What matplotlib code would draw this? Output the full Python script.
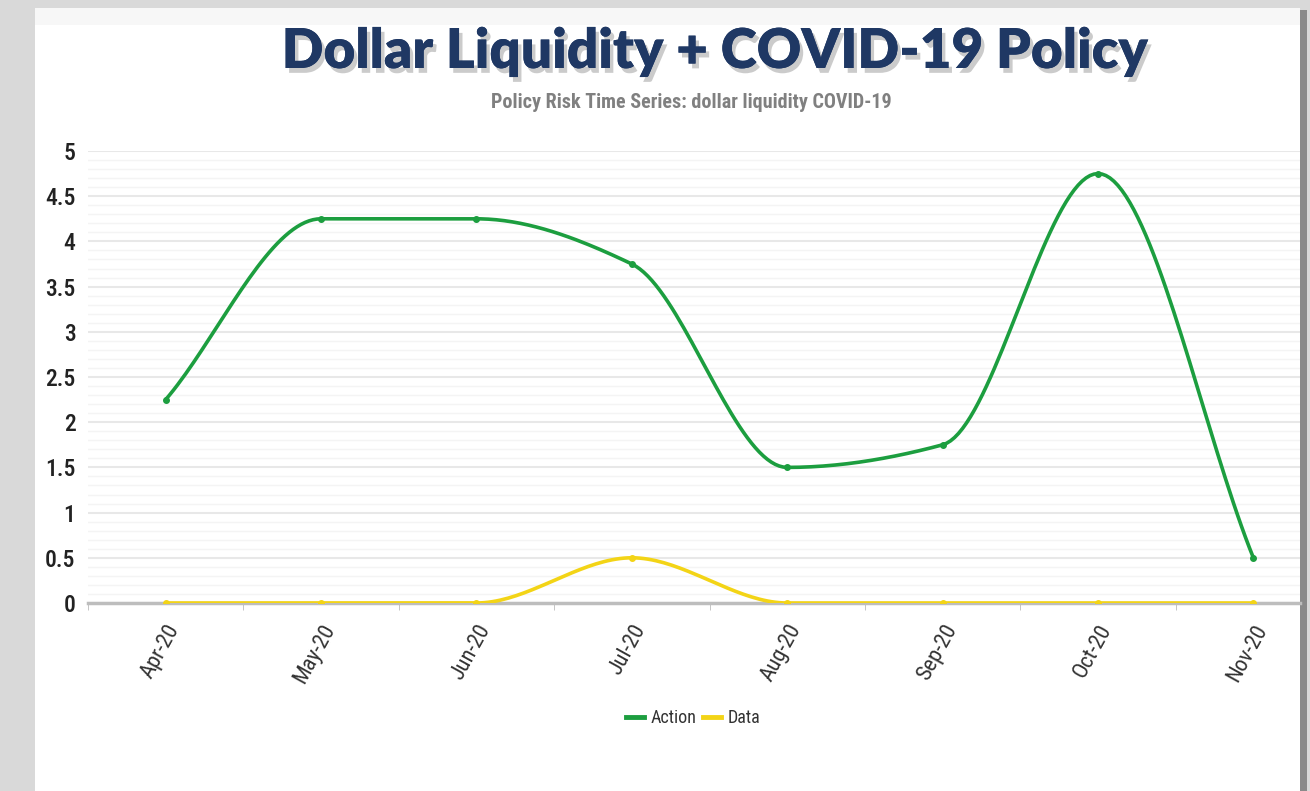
import numpy as np
import matplotlib
matplotlib.use("Agg")
import matplotlib.pyplot as plt
import matplotlib.patheffects as pe
from matplotlib.patches import Rectangle
from matplotlib.lines import Line2D

# data
months = ["Apr-20", "May-20", "Jun-20", "Jul-20", "Aug-20", "Sep-20", "Oct-20", "Nov-20"]
action = [2.25, 4.25, 4.25, 3.75, 1.5, 1.75, 4.75, 0.5]
data = [0, 0, 0, 0.5, 0, 0, 0, 0]

GREEN = "#1c9e3f"
YELLOW = "#f3d416"
NARROW = ["Roboto Condensed", "Liberation Sans Narrow", "Roboto", "DejaVu Sans"]


def monotone_curve(y, n=40):
    """Fritsch-Carlson monotone cubic through the points (for drawing only)"""
    y = np.asarray(y, dtype=float)
    x = np.arange(len(y), dtype=float)
    d = np.diff(y)
    m = np.zeros_like(y)
    m[0], m[-1] = d[0], d[-1]
    for i in range(1, len(y) - 1):
        if d[i - 1] * d[i] <= 0:
            m[i] = 0
        else:
            m[i] = 2 / (1 / d[i - 1] + 1 / d[i])
    xs, ys = [], []
    for i in range(len(y) - 1):
        t = np.linspace(0, 1, n)
        h00 = 2 * t**3 - 3 * t**2 + 1
        h10 = t**3 - 2 * t**2 + t
        h01 = -2 * t**3 + 3 * t**2
        h11 = t**3 - t**2
        xs.append(x[i] + t)
        ys.append(h00 * y[i] + h10 * m[i] + h01 * y[i + 1] + h11 * m[i + 1])
    return np.concatenate(xs), np.concatenate(ys)


W, H = 1310, 791
fig = plt.figure(figsize=(W / 100, H / 100), dpi=100)
fig.patch.set_facecolor("#d9d9d9")

# white panel with shadow on the right, in a background axes
bg = fig.add_axes([0, 0, 1, 1], zorder=-10)
bg.set_xlim(0, W)
bg.set_ylim(H, 0)
bg.axis("off")
bg.add_patch(Rectangle((1300, 10), 7, H, facecolor="#8a8a8a", edgecolor="none"))
bg.add_patch(Rectangle((35, 8), 1265, H, facecolor="white", edgecolor="none"))
bg.add_patch(Rectangle((35, 8), 1265, 17, facecolor="#f7f7f7", edgecolor="none"))

ax = fig.add_axes([88 / W, (H - 603) / H, (1300 - 88) / W, (603 - 151) / H])
ax.set_facecolor("none")

x = np.arange(len(months))
sx, sy = monotone_curve(data)
ax.plot(sx, sy, color=YELLOW, lw=2.6, zorder=3, solid_capstyle="round")
ax.plot(x, data, "o", color=YELLOW, ms=4, zorder=4)
sx, sy = monotone_curve(action)
ax.plot(sx, sy, color=GREEN, lw=2.6, zorder=3, solid_capstyle="round")
ax.plot(x, action, "o", color=GREEN, ms=4, zorder=4)

ax.set_ylim(0, 5)
ax.set_xlim(-0.49, 7.3)
ax.set_yticks(np.arange(0, 5.01, 0.5))
ax.set_yticklabels(["0", "0.5", "1", "1.5", "2", "2.5", "3", "3.5", "4", "4.5", "5"])
ax.set_yticks(np.arange(0, 5.01, 0.1), minor=True)
ax.grid(axis="y", which="major", color="#e8e8e8", lw=1.5)
ax.grid(axis="y", which="minor", color="#f4f4f4", lw=1)
ax.set_axisbelow(True)

ax.set_xticks(x)
ax.set_xticklabels(months, rotation=61, ha="right", rotation_mode="anchor",
                   fontsize=16, color="#333333", family=NARROW)
ax.set_xticks(np.arange(-0.5, 7.5, 1), minor=True)
ax.tick_params(axis="x", which="major", length=0, pad=13)
ax.tick_params(axis="x", which="minor", length=5, color="#bbbbbb")
ax.tick_params(axis="y", which="both", length=0, pad=9)
for lbl in ax.get_yticklabels():
    lbl.set_fontsize(17)
    lbl.set_color("#222222")
    lbl.set_fontweight("medium")
    lbl.set_family(NARROW)

for s in ["top", "right", "left"]:
    ax.spines[s].set_visible(False)
ax.spines["bottom"].set_color("#bdbdbd")
ax.spines["bottom"].set_linewidth(2.5)

fig.text(715 / W, 1 - 52 / H, "Dollar Liquidity + COVID-19 Policy", ha="center", va="center",
         fontsize=39.5, fontweight="heavy", color="#1f3864", family=["Lato", "DejaVu Sans"],
         path_effects=[pe.withSimplePatchShadow(offset=(2.5, -3.5), shadow_rgbFace="#555555", alpha=0.3),
                       pe.Normal()])
fig.text(691 / W, 1 - 102 / H, "Policy Risk Time Series: dollar liquidity COVID-19", ha="center",
         va="center", fontsize=14.5, fontweight="bold", color="#808080", family=NARROW)

handles = [Line2D([], [], color=GREEN, lw=3.5), Line2D([], [], color=YELLOW, lw=3.5)]
leg = fig.legend(handles, ["Action", "Data"], loc="center", bbox_to_anchor=(693 / W, 1 - 718 / H),
                 ncol=2, frameon=False, handlelength=1.0, handletextpad=0.35, columnspacing=0.4,
                 prop={"family": NARROW, "size": 13})
for t in leg.get_texts():
    t.set_color("#333333")

fig.savefig("out.png", dpi=100, facecolor=fig.get_facecolor())
